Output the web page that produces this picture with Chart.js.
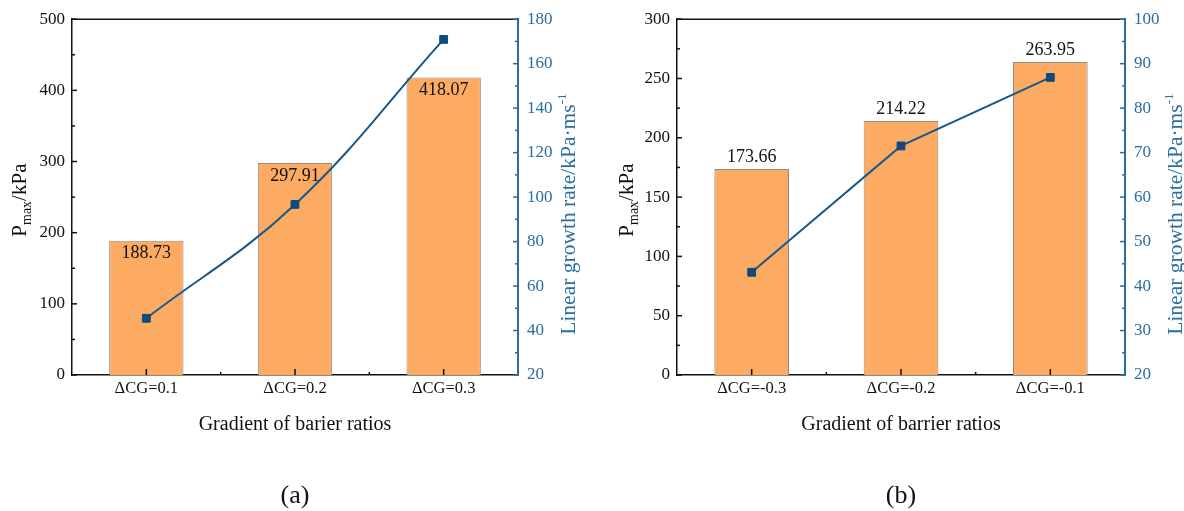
<!DOCTYPE html>
<html>
<head>
<meta charset="utf-8">
<script src="https://cdn.jsdelivr.net/npm/chart.js@4.4.1/dist/chart.umd.min.js"></script>
<style>
  html, body { margin: 0; padding: 0; background: #fff; }
  .panel { position: absolute; top: 0; width: 592px; height: 511px; }
</style>
</head>
<body>
<div class="panel" style="left:0"><canvas id="chartA" width="592" height="511"></canvas></div>
<div class="panel" style="left:592px"><canvas id="chartB" width="592" height="511"></canvas></div>
<script>
// Dados do painel (a)
const categoriesA = ['ΔCG=0.1', 'ΔCG=0.2', 'ΔCG=0.3'];
const pmaxA = [188.73, 297.91, 418.07];
const growthA = [45.5, 96.7, 170.9];

// Dados do painel (b)
const categoriesB = ['ΔCG=-0.3', 'ΔCG=-0.2', 'ΔCG=-0.1'];
const pmaxB = [173.66, 214.22, 263.95];
const growthB = [43.1, 71.5, 86.9];

const FONT = "'Liberation Serif', 'Times New Roman', serif";
const BAR_FILL = '#fdaa63';
const BAR_EDGE = '#8c8c8c';
const LINE_BLUE = '#165a8c';
const AXIS_BLUE = '#2a6d9e';

/**
 * Desenha texto com sub/sobrescrito, centrado em (x, y)
 */
function drawRich(ctx, parts, x, y, angle, color) {
  ctx.save();
  ctx.translate(x, y);
  ctx.rotate(angle);
  ctx.fillStyle = color;
  ctx.textBaseline = 'alphabetic';
  let total = 0;
  parts.forEach(p => {
    ctx.font = p.size + 'px ' + FONT;
    p.w = ctx.measureText(p.text).width;
    total += p.w;
  });
  let cx = -total / 2;
  const base = parts[0].size * 0.33;
  parts.forEach(p => {
    ctx.font = p.size + 'px ' + FONT;
    ctx.fillText(p.text, cx, base + (p.dy || 0));
    cx += p.w;
  });
  ctx.restore();
}

// Plugin: moldura, ticks internos, titulos e rotulos das barras
const figurePlugin = {
  id: 'figure',
  afterDatasetsDraw(chart, args, opts) {
    const ctx = chart.ctx;
    const meta = chart.getDatasetMeta(0);
    ctx.save();
    ctx.font = '18px ' + FONT;
    ctx.fillStyle = '#111';
    ctx.textAlign = 'center';
    ctx.textBaseline = 'middle';
    meta.data.forEach((bar, i) => {
      const v = chart.data.datasets[0].data[i];
      const y = opts.labelInside ? bar.y + 13 : bar.y - 12;
      ctx.fillText(v.toFixed(2), bar.x, y);
    });
    ctx.restore();
  },
  afterDraw(chart, args, opts) {
    const ctx = chart.ctx;
    const area = chart.chartArea;
    const sx = chart.scales.x, sy = chart.scales.y, sy1 = chart.scales.y1;
    ctx.save();

    // linha superior
    ctx.strokeStyle = '#111';
    ctx.lineWidth = 1.5;
    ctx.beginPath();
    ctx.moveTo(area.left, area.top);
    ctx.lineTo(area.right, area.top);
    ctx.stroke();

    // ticks internos dos eixos y (principais e secundarios)
    const drawYTicks = (scale, xPos, dir, color) => {
      ctx.strokeStyle = color;
      ctx.lineWidth = 1.5;
      const vals = scale.ticks.map(t => t.value);
      const step = vals[1] - vals[0];
      vals.forEach((v, i) => {
        const y = scale.getPixelForValue(v);
        ctx.beginPath();
        ctx.moveTo(xPos, y);
        ctx.lineTo(xPos + dir * 5, y);
        ctx.stroke();
        if (i < vals.length - 1) {
          const ym = scale.getPixelForValue(v + step / 2);
          ctx.beginPath();
          ctx.moveTo(xPos, ym);
          ctx.lineTo(xPos + dir * 3, ym);
          ctx.stroke();
        }
      });
    };
    drawYTicks(sy, area.left, 1, '#111');
    drawYTicks(sy1, area.right, -1, AXIS_BLUE);

    // ticks do eixo x
    ctx.strokeStyle = '#111';
    const n = chart.data.labels.length;
    for (let i = 0; i < n; i++) {
      const x = sx.getPixelForValue(i);
      ctx.beginPath();
      ctx.moveTo(x, area.bottom);
      ctx.lineTo(x, area.bottom - 6);
      ctx.stroke();
      if (i < n - 1) {
        const xm = sx.getPixelForValue(i + 0.5);
        ctx.beginPath();
        ctx.moveTo(xm, area.bottom);
        ctx.lineTo(xm, area.bottom - 3);
        ctx.stroke();
      }
    }
    ctx.restore();

    // titulos dos eixos
    const midY = (area.top + area.bottom) / 2;
    drawRich(ctx, [
      { text: 'P', size: 21 },
      { text: 'max', size: 14, dy: 5 },
      { text: '/kPa', size: 21 }
    ], opts.leftTitleX, midY + 3, -Math.PI / 2, '#111');
    drawRich(ctx, [
      { text: 'Linear growth rate/kPa·ms', size: 21.5 },
      { text: '-1', size: 13, dy: -9 }
    ], opts.rightTitleX, midY + 17, -Math.PI / 2, AXIS_BLUE);
    drawRich(ctx, [{ text: opts.xTitle, size: 20 }],
      (area.left + area.right) / 2, 423, 0, '#111');
    drawRich(ctx, [{ text: opts.panel, size: 26 }],
      (area.left + area.right) / 2, 494, 0, '#111');
  }
};

/**
 * Cria um painel com barras (Pmax) e linha (taxa de crescimento)
 */
function makePanel(id, labels, bars, line, cfg) {
  const ctx = document.getElementById(id).getContext('2d');
  return new Chart(ctx, {
    type: 'bar',
    data: {
      labels: labels,
      datasets: [
        {
          type: 'bar',
          data: bars,
          backgroundColor: BAR_FILL,
          borderColor: BAR_EDGE,
          borderWidth: 1,
          barPercentage: 0.5,
          categoryPercentage: 1,
          yAxisID: 'y',
          order: 2
        },
        {
          type: 'line',
          data: line,
          borderColor: LINE_BLUE,
          backgroundColor: '#0f4b7c',
          borderWidth: 2,
          pointStyle: 'rect',
          pointRadius: 5.5,
          pointBorderWidth: 1,
          pointBorderColor: '#0f4b7c',
          tension: cfg.tension,
          yAxisID: 'y1',
          order: 1
        }
      ]
    },
    plugins: [figurePlugin],
    options: {
      responsive: false,
      animation: false,
      layout: { padding: { top: 17, left: 0, right: 0, bottom: 0 } },
      plugins: {
        legend: { display: false },
        tooltip: { enabled: false },
        figure: cfg.figure
      },
      scales: {
        x: {
          grid: { display: false, drawTicks: false },
          border: { color: '#111', width: 1.5 },
          ticks: { color: '#111', padding: 4, font: { family: FONT, size: 16.5 } },
          afterFit: s => { s.height = 136; }
        },
        y: {
          position: 'left',
          min: 0,
          max: cfg.yMax,
          grid: { display: false, drawTicks: false },
          border: { color: '#111', width: 1.5 },
          ticks: { stepSize: cfg.yStep, color: '#111', padding: 7, font: { family: FONT, size: 17 } },
          afterFit: s => { s.width = cfg.leftW; }
        },
        y1: {
          position: 'right',
          min: cfg.y1Min,
          max: cfg.y1Max,
          grid: { display: false, drawTicks: false },
          border: { color: AXIS_BLUE, width: 2 },
          ticks: { stepSize: cfg.y1Step, color: AXIS_BLUE, padding: 9, font: { family: FONT, size: 17 } },
          afterFit: s => { s.width = cfg.rightW; }
        }
      }
    }
  });
}

makePanel('chartA', categoriesA, pmaxA, growthA, {
  tension: 0.4,
  yMax: 500, yStep: 100,
  y1Min: 20, y1Max: 180, y1Step: 20,
  leftW: 72, rightW: 74,
  figure: {
    labelInside: true,
    leftTitleX: 19,
    rightTitleX: 568,
    xTitle: 'Gradient of barier ratios',
    panel: '(a)'
  }
});

makePanel('chartB', categoriesB, pmaxB, growthB, {
  tension: 0,
  yMax: 300, yStep: 50,
  y1Min: 20, y1Max: 100, y1Step: 10,
  leftW: 85, rightW: 59,
  figure: {
    labelInside: false,
    leftTitleX: 34,
    rightTitleX: 583,
    xTitle: 'Gradient of barrier ratios',
    panel: '(b)'
  }
});
</script>
</body>
</html>
